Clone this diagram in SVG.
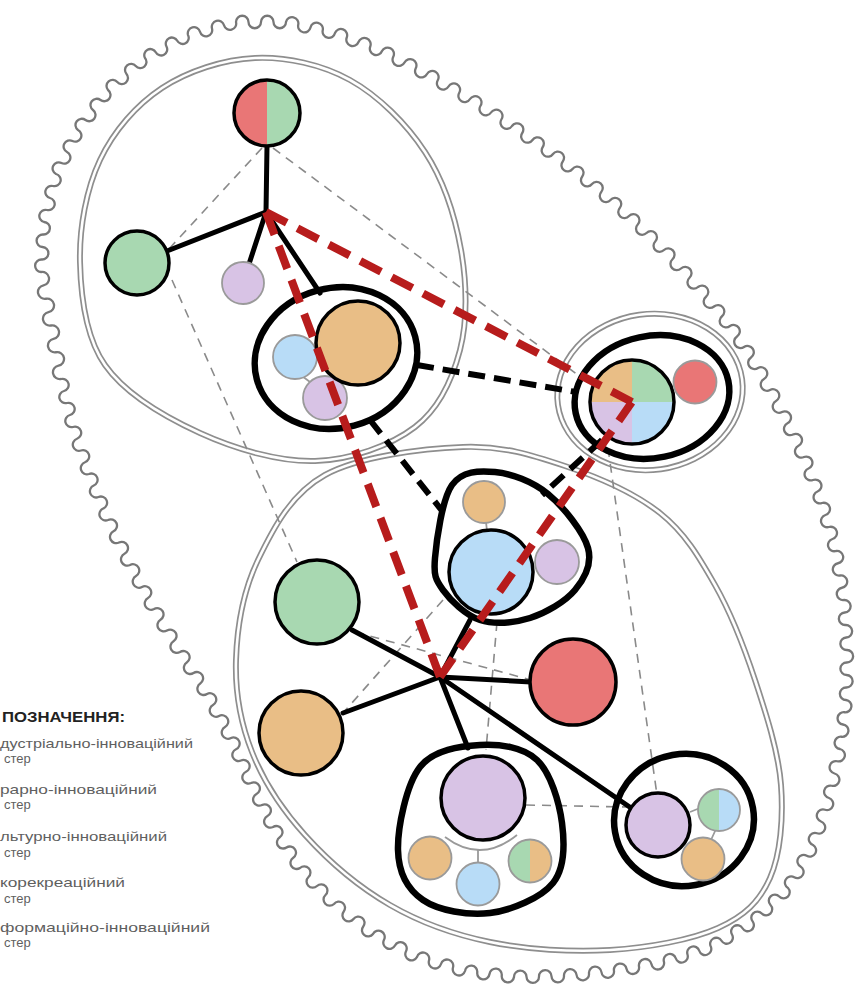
<svg xmlns="http://www.w3.org/2000/svg" width="864" height="987" viewBox="0 0 864 987">
<style>
.wave{fill:none;stroke:#777;stroke-width:2.3}
.dbo{fill:none;stroke:#8e8e8e;stroke-width:6}
.dbi{fill:none;stroke:#fff;stroke-width:2.6}
.gd{fill:none;stroke:#8a8a8a;stroke-width:1.6;stroke-dasharray:9 7}
.bl{stroke:#000;stroke-width:5;stroke-linecap:round}
.bd{stroke:#000;stroke-width:6;stroke-dasharray:17 9}
.enc{fill:none;stroke:#000;stroke-width:6.5}
.nb{stroke:#000;stroke-width:3.5}
.ng{stroke:#9a9a9a;stroke-width:1.8}
.nl{fill:none;stroke:#9a9a9a;stroke-width:1.8}
.rd{stroke:#b71c1c;stroke-width:8;fill:none}
.g{fill:#a8d8b1}.r{fill:#e97676}.o{fill:#e9be86}.l{fill:#d8c3e5}.b{fill:#b8dcf7}
.lt{font-family:"Liberation Sans",Arial,sans-serif;font-size:13px;fill:#5f5f5f}
.lh{font-family:"Liberation Sans",Arial,sans-serif;font-size:15px;font-weight:bold;fill:#222}
</style>
<defs>
<path id="bound-top-shape" d="M80 262 C79.2 227.8 86.3 189 100 160 C113.7 131 136.2 105 162 88 C187.8 71 223.7 59.3 255 58 C286.3 56.7 321.7 64.3 350 80 C378.3 95.7 406.5 123.7 425 152 C443.5 180.3 455.2 217 461 250 C466.8 283 467.7 320.5 460 350 C452.3 379.5 439.2 408.5 415 427 C390.8 445.5 350.8 460 315 461 C279.2 462 235 449 200 433 C165 417 125 393.5 105 365 C85 336.5 80.8 296.2 80 262 Z"/>
<path id="bound-bottom-shape" d="M463 447 C503 445.5 532.2 455 565 466 C597.8 477 635 493.2 660 513 C685 532.8 699.2 557.2 715 585 C730.8 612.8 744 646.7 755 680 C766 713.3 778.5 752 781 785 C783.5 818 780.5 854.2 770 878 C759.5 901.8 744.7 916 718 928 C691.3 940 648 947.7 610 950 C572 952.3 526.7 949.5 490 942 C453.3 934.5 420.8 922.8 390 905 C359.2 887.2 328 860.5 305 835 C282 809.5 263.5 781.2 252 752 C240.5 722.8 235 692 236 660 C237 628 243.2 590.8 258 560 C272.8 529.2 290.8 493.8 325 475 C359.2 456.2 423 448.5 463 447 Z"/>
<ellipse id="bound-right-shape" cx="650" cy="392" rx="93" ry="78" transform="rotate(-8 650 392)"/>
</defs>
<rect width="864" height="987" fill="#fff"/>

<g id="outer-border">
<path class="wave" d="M41 272
a1 1 0 0 1 .75 -12.5 1 1 0 0 0 .75 -12.5 1 1 0 0 1 .75 -12.5 1 1 0 0 0 .75 -12.5
a1 1 0 0 1 3 -12 1 1 0 0 0 3 -12 1 1 0 0 1 3 -12 1 1 0 0 0 3 -12
a1 1 0 0 1 5.5 -11 1 1 0 0 0 5.5 -11 1 1 0 0 1 5.5 -11 1 1 0 0 0 5.5 -11
a1 1 0 0 1 7.5 -10 1 1 0 0 0 7.5 -10 1 1 0 0 1 7.5 -10 1 1 0 0 0 7.5 -10
a1 1 0 0 1 9.25 -8 1 1 0 0 0 9.25 -8 1 1 0 0 1 9.25 -8 1 1 0 0 0 9.25 -8
a1 1 0 0 1 10.75 -5.75 1 1 0 0 0 10.75 -5.75 1 1 0 0 1 10.75 -5.75 1 1 0 0 0 10.75 -5.75
a1 1 0 0 1 12 -3.25 1 1 0 0 0 12 -3.25 1 1 0 0 1 12 -3.25 1 1 0 0 0 12 -3.25
a1 1 0 0 1 12.5 0 1 1 0 0 0 12.5 0 1 1 0 0 1 12.5 0 1 1 0 0 0 12.5 0
a1 1 0 0 1 12.25 2.75 1 1 0 0 0 12.25 2.75 1 1 0 0 1 12.25 2.75 1 1 0 0 0 12.25 2.75
a1 1 0 0 1 11.75 4.5 1 1 0 0 0 11.75 4.5 1 1 0 0 1 11.75 4.5 1 1 0 0 0 11.75 4.5
a1 1 0 0 1 11.25 5.75 1 1 0 0 0 11.25 5.75 1 1 0 0 1 11.25 5.75 1 1 0 0 0 11.25 5.75
a1 1 0 0 1 10.75 6.25 1 1 0 0 0 10.75 6.25 1 1 0 0 1 10.75 6.25 1 1 0 0 0 10.75 6.25
a1 1 0 0 1 10.5 6.75 1 1 0 0 0 10.5 6.75 1 1 0 0 1 10.5 6.75 1 1 0 0 0 10.5 6.75
a1 1 0 0 1 10.25 7 1 1 0 0 0 10.25 7 1 1 0 0 1 10.25 7 1 1 0 0 0 10.25 7
a1 1 0 0 1 9.75 7.5 1 1 0 0 0 9.75 7.5 1 1 0 0 1 9.75 7.5 1 1 0 0 0 9.75 7.5
a1 1 0 0 1 9.25 8 1 1 0 0 0 9.25 8 1 1 0 0 1 9.25 8 1 1 0 0 0 9.25 8
a1 1 0 0 1 8.75 8.5 1 1 0 0 0 8.75 8.5 1 1 0 0 1 8.75 8.5 1 1 0 0 0 8.75 8.5
a1 1 0 0 1 8.5 9.25 1 1 0 0 0 8.5 9.25 1 1 0 0 1 8.5 9.25 1 1 0 0 0 8.5 9.25
a1 1 0 0 1 8 9.75 1 1 0 0 0 8 9.75 1 1 0 0 1 8 9.75 1 1 0 0 0 8 9.75
a1 1 0 0 1 7 10.5 1 1 0 0 0 7 10.5 1 1 0 0 1 7 10.5 1 1 0 0 0 7 10.5
a1 1 0 0 1 6 11 1 1 0 0 0 6 11 1 1 0 0 1 6 11 1 1 0 0 0 6 11
a1 1 0 0 1 5.5 11.25 1 1 0 0 0 5.5 11.25 1 1 0 0 1 5.5 11.25 1 1 0 0 0 5.5 11.25
a1 1 0 0 1 4.5 11.5 1 1 0 0 0 4.5 11.5 1 1 0 0 1 4.5 11.5 1 1 0 0 0 4.5 11.5
a1 1 0 0 1 3.5 12 1 1 0 0 0 3.5 12 1 1 0 0 1 3.5 12 1 1 0 0 0 3.5 12
a1 1 0 0 1 2 12.25 1 1 0 0 0 2 12.25 1 1 0 0 1 2 12.25 1 1 0 0 0 2 12.25
a1 1 0 0 1 .75 12.5 1 1 0 0 0 .75 12.5 1 1 0 0 1 .75 12.5 1 1 0 0 0 .75 12.5
a1 1 0 0 1 -.25 12.5 1 1 0 0 0 -.25 12.5 1 1 0 0 1 -.25 12.5 1 1 0 0 0 -.25 12.5
a1 1 0 0 1 -1.5 12.25 1 1 0 0 0 -1.5 12.25 1 1 0 0 1 -1.5 12.25 1 1 0 0 0 -1.5 12.25
a1 1 0 0 1 -2.75 12.25 1 1 0 0 0 -2.75 12.25 1 1 0 0 1 -2.75 12.25 1 1 0 0 0 -2.75 12.25
a1 1 0 0 1 -4 11.75 1 1 0 0 0 -4 11.75 1 1 0 0 1 -4 11.75 1 1 0 0 0 -4 11.75
a1 1 0 0 1 -6.25 10.75 1 1 0 0 0 -6.25 10.75 1 1 0 0 1 -6.25 10.75 1 1 0 0 0 -6.25 10.75
a1 1 0 0 1 -8.75 8.5 1 1 0 0 0 -8.75 8.5 1 1 0 0 1 -8.75 8.5 1 1 0 0 0 -8.75 8.5
a1 1 0 0 1 -10.5 6.25 1 1 0 0 0 -10.5 6.25 1 1 0 0 1 -10.5 6.25 1 1 0 0 0 -10.5 6.25
a1 1 0 0 1 -11.75 3.75 1 1 0 0 0 -11.75 3.75 1 1 0 0 1 -11.75 3.75 1 1 0 0 0 -11.75 3.75
a1 1 0 0 1 -12.5 2.25 1 1 0 0 0 -12.5 2.25 1 1 0 0 1 -12.5 2.25 1 1 0 0 0 -12.5 2.25
a1 1 0 0 1 -12.5 1.25 1 1 0 0 0 -12.5 1.25 1 1 0 0 1 -12.5 1.25 1 1 0 0 0 -12.5 1.25
a1 1 0 0 1 -12.5 .25 1 1 0 0 0 -12.5 .25 1 1 0 0 1 -12.5 .25 1 1 0 0 0 -12.5 .25
a1 1 0 0 1 -12.25 -1.5 1 1 0 0 0 -12.25 -1.5 1 1 0 0 1 -12.25 -1.5 1 1 0 0 0 -12.25 -1.5
a1 1 0 0 1 -12 -3.5 1 1 0 0 0 -12 -3.5 1 1 0 0 1 -12 -3.5 1 1 0 0 0 -12 -3.5
a1 1 0 0 1 -11 -5.75 1 1 0 0 0 -11 -5.75 1 1 0 0 1 -11 -5.75 1 1 0 0 0 -11 -5.75
a1 1 0 0 1 -9.75 -7.5 1 1 0 0 0 -9.75 -7.5 1 1 0 0 1 -9.75 -7.5 1 1 0 0 0 -9.75 -7.5
a1 1 0 0 1 -8.5 -9 1 1 0 0 0 -8.5 -9 1 1 0 0 1 -8.5 -9 1 1 0 0 0 -8.5 -9
a1 1 0 0 1 -6.75 -10.25 1 1 0 0 0 -6.75 -10.25 1 1 0 0 1 -6.75 -10.25 1 1 0 0 0 -6.75 -10.25
a1 1 0 0 1 -5.5 -11 1 1 0 0 0 -5.5 -11 1 1 0 0 1 -5.5 -11 1 1 0 0 0 -5.5 -11
a1 1 0 0 1 -5 -11.25 1 1 0 0 0 -5 -11.25 1 1 0 0 1 -5 -11.25 1 1 0 0 0 -5 -11.25
a1 1 0 0 1 -6 -11 1 1 0 0 0 -6 -11 1 1 0 0 1 -6 -11 1 1 0 0 0 -6 -11
a1 1 0 0 1 -6.75 -10.5 1 1 0 0 0 -6.75 -10.5 1 1 0 0 1 -6.75 -10.5 1 1 0 0 0 -6.75 -10.5
a1 1 0 0 1 -6.5 -10.75 1 1 0 0 0 -6.5 -10.75 1 1 0 0 1 -6.5 -10.75 1 1 0 0 0 -6.5 -10.75
a1 1 0 0 1 -6 -11 1 1 0 0 0 -6 -11 1 1 0 0 1 -6 -11 1 1 0 0 0 -6 -11
a1 1 0 0 1 -5.5 -11.25 1 1 0 0 0 -5.5 -11.25 1 1 0 0 1 -5.5 -11.25 1 1 0 0 0 -5.5 -11.25
a1 1 0 0 1 -4.75 -11.5 1 1 0 0 0 -4.75 -11.5 1 1 0 0 1 -4.75 -11.5 1 1 0 0 0 -4.75 -11.5
a1 1 0 0 1 -4 -11.75 1 1 0 0 0 -4 -11.75 1 1 0 0 1 -4 -11.75 1 1 0 0 0 -4 -11.75
a1 1 0 0 1 -3 -12 1 1 0 0 0 -3 -12 1 1 0 0 1 -3 -12 1 1 0 0 0 -3 -12
a1 1 0 0 1 -2.5 -13.375 1 1 0 0 0 -2.5 -13.375 1 1 0 0 1 -2.5 -13.375 1 1 0 0 0 -2.5 -13.375 1 1 0 0 1 -2.5 -13.375 1 1 0 0 0 -2.5 -13.375 1 1 0 0 1 -2.5 -13.375 1 1 0 0 0 -2.5 -13.375Z"/>
</g>

<g id="cluster-boundaries">
<use href="#bound-top-shape" class="dbo"/>
<use href="#bound-top-shape" class="dbi"/>
<use href="#bound-bottom-shape" class="dbo"/>
<use href="#bound-bottom-shape" class="dbi"/>
<use href="#bound-right-shape" class="dbo"/>
<use href="#bound-right-shape" class="dbi"/>
</g>

<g id="connectors">
<g class="gd">
<line x1="262" y1="148" x2="168" y2="250"/>
<line x1="273" y1="148" x2="590" y2="384"/>
<line x1="172" y1="280" x2="297" y2="562"/>
<line x1="608" y1="448" x2="657" y2="795"/>
<line x1="443" y1="600" x2="343" y2="713"/>
<line x1="355" y1="632" x2="531" y2="680"/>
<line x1="497" y1="622" x2="486" y2="750"/>
<line x1="526" y1="805" x2="627" y2="807"/>
</g>
<g class="bl">
<line x1="266" y1="212" x2="267" y2="146"/>
<line x1="266" y1="212" x2="167" y2="251"/>
<line x1="266" y1="212" x2="249" y2="264"/>
<line x1="266" y1="212" x2="320" y2="293"/>
<line x1="440" y1="677" x2="352" y2="630"/>
<line x1="440" y1="677" x2="343" y2="713"/>
<line x1="440" y1="677" x2="531" y2="682"/>
<line x1="440" y1="677" x2="470" y2="620"/>
<line x1="440" y1="677" x2="468" y2="748"/>
<line x1="440" y1="677" x2="634" y2="810"/>
</g>
<g class="bd">
<line x1="417" y1="365" x2="576" y2="392"/>
<line x1="370" y1="420" x2="443" y2="512"/>
<line x1="602" y1="440" x2="542" y2="495"/>
</g>
</g>

<g id="node-top">
<circle cx="267" cy="113" r="33" class="g"/>
<path d="M267 80A33 33 0 0 0 267 146Z" class="r"/>
<circle cx="267" cy="113" r="33" fill="none" class="nb"/>
</g>
<g id="node-green-left"><circle cx="137" cy="263" r="32" class="g nb"/></g>
<g id="node-lav-small"><circle cx="243" cy="283" r="21" class="l ng"/></g>
<g id="cluster-orange">
<ellipse cx="336" cy="358" rx="82" ry="70" transform="rotate(-15 336 358)" class="enc"/>
<line x1="302" y1="376" x2="314" y2="385" class="nl"/>
<circle cx="295" cy="357" r="22" class="b ng"/>
<circle cx="325" cy="398" r="22" class="l ng"/>
<circle cx="358" cy="343" r="42" class="o nb"/>
</g>
<g id="cluster-quarter">
<ellipse cx="652" cy="397" rx="78" ry="61" transform="rotate(-12 652 397)" class="enc"/>
<path d="M632 402L590 402A42 42 0 0 1 632 360Z" class="o"/>
<path d="M632 402L632 360A42 42 0 0 1 674 402Z" class="g"/>
<path d="M632 402L674 402A42 42 0 0 1 632 444Z" class="b"/>
<path d="M632 402L632 444A42 42 0 0 1 590 402Z" class="l"/>
<circle cx="632" cy="402" r="42" fill="none" class="nb"/>
<circle cx="695" cy="382" r="21.5" class="r ng"/>
</g>
<g id="node-green-low"><circle cx="317" cy="602" r="42" class="g nb"/></g>
<g id="node-orange-low"><circle cx="301" cy="733" r="42" class="o nb"/></g>
<g id="node-red-low"><circle cx="573" cy="682" r="43" class="r nb"/></g>
<g id="cluster-blue">
<path class="enc" d="M435 558 C436.5 540.5 442 499.3 452 485 C462 470.7 479 470.5 495 472 C511 473.5 532.5 481.3 548 494 C563.5 506.7 583.5 532 588 548 C592.5 564 584.7 578.3 575 590 C565.3 601.7 545.8 613 530 618 C514.2 623 494.5 624.7 480 620 C465.5 615.3 450.5 600.3 443 590 C435.5 579.7 433.5 575.5 435 558 Z"/>
<line x1="486" y1="522" x2="487" y2="531" class="nl"/>
<circle cx="484" cy="502" r="21" class="o ng"/>
<circle cx="557" cy="562" r="22" class="l ng"/>
<circle cx="491" cy="572" r="42" class="b nb"/>
</g>
<g id="cluster-lavender">
<path class="enc" d="M480 745 C499.5 743.8 523.3 747 537 760 C550.7 773 559.3 802.5 562 823 C564.7 843.5 565 868 553 883 C541 898 511.7 910.2 490 913 C468.3 915.8 438.3 910.5 423 900 C407.7 889.5 398.5 872.2 398 850 C397.5 827.8 406.3 784.5 420 767 C433.7 749.5 460.5 746.2 480 745 Z"/>
<path d="M445 837Q481 864 517 835M478 850L478 863" class="nl"/>
<circle cx="483" cy="798" r="42" class="l nb"/>
<circle cx="430" cy="858" r="21.5" class="o ng"/>
<circle cx="478" cy="884" r="21.5" class="b ng"/>
<circle cx="530" cy="861" r="21.5" class="o"/>
<path d="M530 839.5A21.5 21.5 0 0 0 530 882.5Z" class="g"/>
<circle cx="530" cy="861" r="21.5" fill="none" class="ng"/>
</g>
<g id="cluster-right">
<ellipse cx="684" cy="820" rx="70" ry="66" transform="rotate(-10 684 820)" class="enc"/>
<path d="M690 812L700 808M716 829L711 840" class="nl"/>
<circle cx="658" cy="825" r="32" class="l nb"/>
<circle cx="719" cy="810" r="21" class="b"/>
<path d="M719 789A21 21 0 0 0 719 831Z" class="g"/>
<circle cx="719" cy="810" r="21" fill="none" class="ng"/>
<circle cx="703" cy="859" r="21.5" class="o ng"/>
</g>

<g id="red-links" class="rd">
<line x1="266" y1="212" x2="632" y2="402" stroke-dasharray="23.4 12"/>
<line x1="266" y1="212" x2="440" y2="677" stroke-dasharray="24.3 12"/>
<line x1="440" y1="677" x2="632" y2="402" stroke-dasharray="22.7 12"/>
</g>

<g id="legend">
<text x="2" y="722" class="lh" textLength="123" lengthAdjust="spacingAndGlyphs">ПОЗНАЧЕННЯ:</text>
<text x="0" y="748" class="lt" textLength="193" lengthAdjust="spacingAndGlyphs">дустріально-інноваційний</text>
<text x="4" y="763" class="lt">стер</text>
<text x="0" y="794" class="lt" textLength="157" lengthAdjust="spacingAndGlyphs">рарно-інноваційний</text>
<text x="4" y="809" class="lt">стер</text>
<text x="0" y="841" class="lt" textLength="167" lengthAdjust="spacingAndGlyphs">льтурно-інноваційний</text>
<text x="4" y="857" class="lt">стер</text>
<text x="0" y="887" class="lt" textLength="125" lengthAdjust="spacingAndGlyphs">корекреаційний</text>
<text x="4" y="903" class="lt">стер</text>
<text x="0" y="932" class="lt" textLength="210" lengthAdjust="spacingAndGlyphs">формаційно-інноваційний</text>
<text x="4" y="947" class="lt">стер</text>
</g>
</svg>
